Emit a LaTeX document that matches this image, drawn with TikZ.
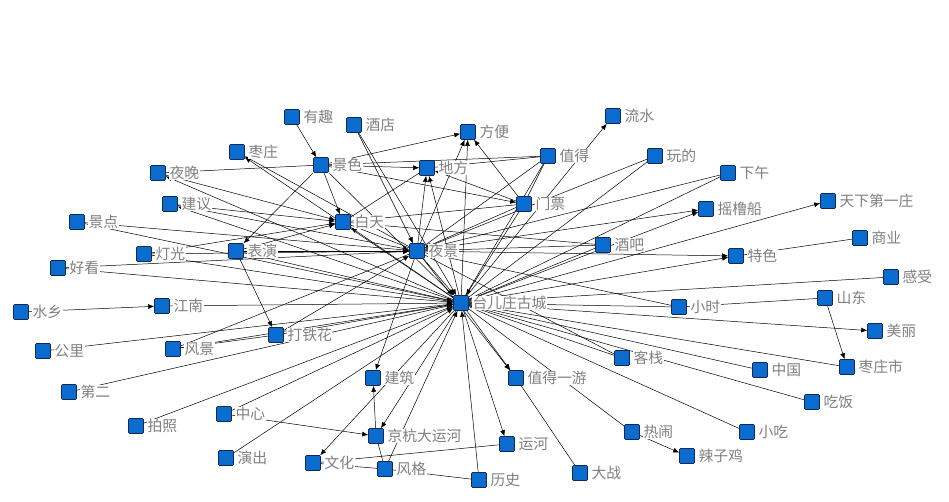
\documentclass[tikz,border=0pt]{standalone}
\usepackage{fontspec}
\newfontfamily\cjk{Noto Sans CJK SC}
\usetikzlibrary{arrows.meta, backgrounds}
\definecolor{kwblue}{RGB}{10,108,206}
\definecolor{kwline}{RGB}{20,40,80}
\definecolor{kwtext}{RGB}{128,128,128}

\begin{document}
\begin{tikzpicture}[
  x=1pt, y=-1pt,
  >={Latex[length=6pt,width=5pt]},
  label distance=3pt,
  kw/.style={draw=kwline, fill=kwblue, minimum size=15pt, inner sep=0pt,
             rounded corners=1pt, line width=0.6pt, label={[kwlab]right:#1}},
  kwlab/.style={font=\cjk\fontsize{14.8}{16}\selectfont, text=kwtext,
                fill=white, inner sep=0.5pt},
  flow/.style={->, line width=0.5pt},
  tie/.style={-, line width=0.5pt},
]

% ---------- Hub and inner ring ----------
\node[kw=台儿庄古城] (gc) at (461,303) {};
\node[kw=夜景]   (yj) at (417,251) {};
\node[kw=白天]   (bt) at (343,222) {};
\node[kw=地方]   (df) at (427,168) {};
\node[kw=方便]   (fb) at (468,132) {};
\node[kw=景色]   (js) at (321,165) {};
\node[kw=门票]   (mp) at (524,204) {};
\node[kw=值得]   (zd) at (548,156) {};

% ---------- Upper half ----------
\node[kw=有趣]   (yq) at (292,117) {};
\node[kw=酒店]   (jd) at (354,125) {};
\node[kw=流水]   (ls) at (613,116) {};
\node[kw=玩的]   (wd) at (655,156) {};
\node[kw=下午]   (xw) at (728,173) {};
\node[kw=枣庄]   (zz) at (237,152) {};
\node[kw=夜晚]   (yw) at (158,173) {};
\node[kw=建议]   (jy) at (170,204) {};
\node[kw=景点]   (jdn) at (77,222) {};
\node[kw=灯光]   (dg) at (144,254) {};
\node[kw=表演]   (by) at (236,251) {};
\node[kw=好看]   (hk) at (58,268) {};
\node[kw=天下第一庄] (tx) at (828,201) {};
\node[kw=摇橹船] (ylc) at (706,209) {};
\node[kw=酒吧]   (jb) at (603,245) {};
\node[kw=特色]   (ts) at (736,256) {};
\node[kw=商业]   (sy) at (860,238) {};
\node[kw=感受]   (gs) at (891,277) {};

% ---------- Lower half ----------
\node[kw=水乡]   (sx) at (21,312) {};
\node[kw=江南]   (jn) at (162,306) {};
\node[kw=小时]   (xs) at (679,307) {};
\node[kw=山东]   (sd) at (825,298) {};
\node[kw=公里]   (gl) at (43,351) {};
\node[kw=风景]   (fj) at (173,349) {};
\node[kw=打铁花] (dth) at (276,335) {};
\node[kw=美丽]   (ml) at (875,331) {};
\node[kw=客栈]   (kz) at (622,358) {};
\node[kw=中国]   (zg) at (760,370) {};
\node[kw=枣庄市] (zzs) at (847,367) {};
\node[kw=第二]   (de) at (69,392) {};
\node[kw=建筑]   (jz) at (373,378) {};
\node[kw=值得一游] (zdy) at (516,378) {};
\node[kw=吃饭]   (cf) at (812,402) {};
\node[kw=拍照]   (pz) at (136,426) {};
\node[kw=中心]   (zx) at (224,414) {};
\node[kw=京杭大运河] (jh) at (376,436) {};
\node[kw=热闹]   (rn) at (632,432) {};
\node[kw=小吃]   (xc) at (747,432) {};
\node[kw=运河]   (yh) at (507,444) {};
\node[kw=演出]   (yc) at (226,458) {};
\node[kw=文化]   (wh) at (313,463) {};
\node[kw=风格]   (fg) at (385,469) {};
\node[kw=辣子鸡] (lzj) at (687,456) {};
\node[kw=大战]   (dz) at (580,473) {};
\node[kw=历史]   (lsh) at (479,480) {};

\begin{scope}[on background layer]
  \path[use as bounding box, fill=white] (0,0) rectangle (949,501);

  % links into the hub
  \foreach \a in {yj,js,jd,jdn,dg,hk,by,jn,gl,fj,dth,de,pz,zx,yc,fg,lsh,mp}
    \draw[flow] (\a) -- (gc);
  \foreach \a in {wd,xw,jb,zd,xs,kz,zg,zzs,cf,xc,rn,gs}
    \draw[tie] (\a) -- (gc);
  \foreach \b in {ls,ylc,tx,ts,ml,zdy,yh,jh,wh,zz,yw,jy,bt,df,fb}
    \draw[flow] (gc) -- (\b);

  % links round the night view
  \foreach \a in {jdn,dg,hk,by,jy,jd,mp,dth}
    \draw[flow] (\a) -- (yj);
  \foreach \a in {zd,wd,xw,jb,xs,kz,fj,bt}
    \draw[tie] (\a) -- (yj);
  \foreach \b in {ylc,ts,zz,df,fb,jz,zdy}
    \draw[flow] (yj) -- (\b);

  % links round the daytime
  \foreach \a in {js,yw,jy,dg,by}
    \draw[flow] (\a) -- (bt);
  \foreach \a in {df,mp,jb}
    \draw[tie] (\a) -- (bt);

  % the rest
  \draw[flow] (yq) -- (js);
  \draw[flow] (js) -- (df);
  \draw[flow] (js) -- (fb);
  \draw[flow] (js) -- (mp);
  \draw[flow] (js) -- (by);
  \draw[tie]  (js) -- (zd);
  \draw[tie]  (yw) -- (js);
  \draw[flow] (mp) -- (df);
  \draw[flow] (mp) -- (fb);
  \draw[tie]  (zd) -- (df);
  \draw[tie]  (zd) -- (mp);
  \draw[tie]  (sy) -- (ts);
  \draw[tie]  (sd) -- (xs);
  \draw[flow] (sd) -- (zzs);
  \draw[flow] (rn) -- (lzj);
  \draw[tie]  (zdy) -- (dz);
  \draw[tie]  (yh) -- (wh);
  \draw[tie]  (fg) -- (lsh);
  \draw[tie]  (fg) -- (wh);
  \draw[tie]  (fg) -- (jh);
  \draw[flow] (jh) -- (jz);
  \draw[flow] (zx) -- (jh);
  \draw[tie]  (fj) -- (dth);
  \draw[flow] (by) -- (dth);
  \draw[flow] (sx) -- (jn);
\end{scope}

\end{tikzpicture}
\end{document}
